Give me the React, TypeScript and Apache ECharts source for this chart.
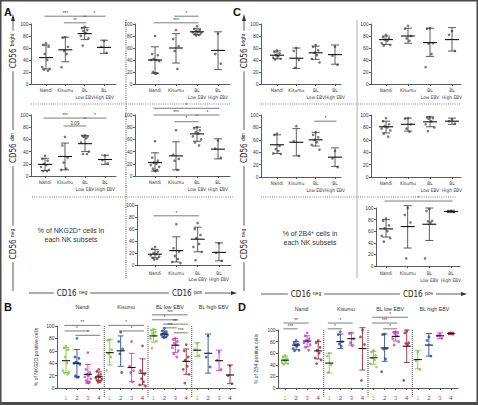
import React, { useEffect, useRef } from "react";
import * as echarts from "echarts";

const subsetGroups = ["Nandi", "Kisumu", "BL\nLow EBV", "BL\nHigh EBV"];
const cohortTitles = ["Nandi", "Kisumu", "BL low EBV", "BL high EBV"];
const subsetNumbers = ["1", "2", "3", "4"];
const subsetColors = ["#7cc843", "#2c4d9c", "#c43fc4", "#a0283c"];
const yTickInterval = 20;

// ---------- % of NKG2D+ cells ----------
const nkBrightNegPoints = [[68, 65, 62, 50, 40, 28, 25, 24, 22], [78, 77, 62, 55, 50, 28], [95, 93, 90, 88, 85, 80, 76, 64], [72, 62, 52]];
const nkBrightNegMean = [44, 57, 84, 61];
const nkBrightNegLo = [25, 37, 74, 51];
const nkBrightNegHi = [65, 78, 94, 73];

const nkBrightPosPoints = [[80, 50, 48, 42, 40, 40, 38, 20, 18, 18, 17], [90, 75, 63, 55, 25], [96, 92, 90, 88, 87, 86, 85, 83, 82, 81], [84, 50, 34]];
const nkBrightPosMean = [40, 60, 87, 56];
const nkBrightPosLo = [18, 35, 82, 24];
const nkBrightPosHi = [62, 84, 92, 87];

const nkDimNegPoints = [[33, 28, 25, 20, 18, 15, 10, 8, 8], [64, 50, 30, 22, 12, 10], [67, 66, 65, 64, 62, 55, 40, 36, 36], [34, 26, 21]];
const nkDimNegMean = [19, 32, 53, 27];
const nkDimNegLo = [9, 10, 40, 19];
const nkDimNegHi = [29, 54, 66, 34];

const nkDimPosPoints = [[57, 30, 25, 22, 20, 18, 15, 12, 10, 9, 8], [75, 35, 28, 25, 10], [80, 78, 75, 72, 70, 65, 60, 55, 50], [58, 45, 30]];
const nkDimPosMean = [22, 33, 69, 44];
const nkDimPosLo = [8, 10, 57, 28];
const nkDimPosHi = [38, 56, 80, 61];

const nkNegPosPoints = [[30, 27, 22, 20, 18, 16, 14, 12, 10, 9], [68, 28, 22, 15, 10, 5, 3], [70, 60, 50, 45, 35, 30, 22, 8], [36, 20, 7]];
const nkNegPosMean = [18, 24, 43, 21];
const nkNegPosLo = [12, 5, 22, 7];
const nkNegPosHi = [26, 47, 63, 37];

// significance: [from, to, level, label]
const nkBrightNegSig = [[1, 3, 113, "***"], [3, 4, 113, "*"], [2, 3, 102, "**"]];
const nkBrightPosSig = [[2, 3, 113, "*"], [1, 3, 102, "***"]];
const nkDimNegSig = [[1, 3, 95, "***"], [3, 4, 95, "*"], [2, 3, 82, "0.09"]];
const nkDimPosSig = [[1, 4, 111, "*"], [1, 3, 100, "***"], [3, 4, 100, "*"], [2, 3, 89, "*"]];
const nkNegPosSig = [[1, 3, 82, "*"]];
const nkCohortSig = [
  [1, 4, 101, "**"], [1, 3, 92, "*"], [2, 4, 85, "*"],
  [5, 8, 101, "*"], [6, 8, 92, "*"],
  [9, 12, 118, "***"], [9, 11, 110, "*"], [10, 12, 103, "***"], [10, 11, 97, "***"], [11, 12, 89, "***"],
];

// ---------- % of 2B4+ cells ----------
const b4BrightNegPoints = [[56, 53, 51, 48, 46, 44, 42, 41], [60, 55, 40, 27], [65, 62, 56, 52, 48, 42, 36], [62, 47, 32]];
const b4BrightNegMean = [48, 43, 52, 49];
const b4BrightNegLo = [42, 26, 41, 33];
const b4BrightNegHi = [55, 60, 63, 65];

const b4BrightPosPoints = [[82, 78, 76, 74, 72, 68, 65, 64], [97, 92, 80, 76, 72], [93, 92, 68, 67, 50, 28], [88, 82, 55]];
const b4BrightPosMean = [74, 80, 69, 74];
const b4BrightPosLo = [66, 68, 46, 55];
const b4BrightPosHi = [80, 93, 93, 94];

const b4DimNegPoints = [[70, 68, 50, 45, 42, 38, 37], [82, 58, 34], [72, 68, 64, 60, 56, 52, 44], [42, 30, 16]];
const b4DimNegMean = [52, 56, 60, 32];
const b4DimNegLo = [38, 34, 50, 17];
const b4DimNegHi = [68, 78, 72, 47];

const b4DimPosPoints = [[95, 90, 85, 82, 80, 78, 75, 70, 65], [95, 94, 85, 78, 73], [97, 96, 95, 94, 90, 85, 80, 74], [93, 90, 86]];
const b4DimPosMean = [81, 85, 89, 90];
const b4DimPosLo = [71, 74, 81, 85];
const b4DimPosHi = [90, 95, 97, 95];

const b4NegPosPoints = [[82, 78, 70, 65, 60, 52, 48, 42], [100, 88, 75, 13], [98, 95, 78, 77, 75, 13], [95, 94, 93]];
const b4NegPosMean = [64, 68, 72, 94];
const b4NegPosLo = [50, 31, 44, 92];
const b4NegPosHi = [80, 104, 100, 96];

const b4BrightNegSig: any[] = [];
const b4BrightPosSig: any[] = [];
const b4DimNegSig = [[3, 4, 90, "*"]];
const b4DimPosSig: any[] = [];
const b4NegPosSig = [[1, 4, 112, "*"]];
const b4CohortSig = [
  [1, 3, 112, "**"], [1, 2, 102, "***"],
  [5, 7, 112, "*"], [5, 6, 102, "*"],
  [9, 12, 122, "*"], [9, 11, 112, "***"], [10, 11, 102, "*"],
];

const FONT = "'Liberation Sans', Arial, sans-serif";
const NARROW = "'Liberation Sans Narrow', 'DejaVu Sans Condensed', 'Liberation Sans', sans-serif";
const INK = "#333";

type Sub = { points: number[][]; mean: number[]; lo: number[]; hi: number[] };
const mk = (points: number[][], mean: number[], lo: number[], hi: number[]): Sub => ({ points, mean, lo, hi });

const jitter = [0, -0.6, 0.6, -0.3, 0.3, -0.9, 0.9, -0.45, 0.45, -0.15, 0.15];

function buildOption() {
  const nk = {
    bn: mk(nkBrightNegPoints, nkBrightNegMean, nkBrightNegLo, nkBrightNegHi),
    bp: mk(nkBrightPosPoints, nkBrightPosMean, nkBrightPosLo, nkBrightPosHi),
    dn: mk(nkDimNegPoints, nkDimNegMean, nkDimNegLo, nkDimNegHi),
    dp: mk(nkDimPosPoints, nkDimPosMean, nkDimPosLo, nkDimPosHi),
    np: mk(nkNegPosPoints, nkNegPosMean, nkNegPosLo, nkNegPosHi),
  };
  const b4 = {
    bn: mk(b4BrightNegPoints, b4BrightNegMean, b4BrightNegLo, b4BrightNegHi),
    bp: mk(b4BrightPosPoints, b4BrightPosMean, b4BrightPosLo, b4BrightPosHi),
    dn: mk(b4DimNegPoints, b4DimNegMean, b4DimNegLo, b4DimNegHi),
    dp: mk(b4DimPosPoints, b4DimPosMean, b4DimPosLo, b4DimPosHi),
    np: mk(b4NegPosPoints, b4NegPosMean, b4NegPosLo, b4NegPosHi),
  };

  const grid: any[] = [];
  const xAxis: any[] = [];
  const yAxis: any[] = [];
  const series: any[] = [];

  const lineStyle = { color: INK, width: 0.8 };

  const yAxisDef = (i: number, extra: any = {}) => ({
    type: "value", gridIndex: i, min: 0, max: 100, interval: yTickInterval,
    axisLine: { show: true, lineStyle },
    axisTick: { show: true, length: 2, lineStyle },
    axisLabel: { fontSize: 5, color: INK, margin: 2.5, fontFamily: FONT },
    splitLine: { show: false },
    ...extra,
  });

  const errorBars = (i: number, rows: number[][], o: any) => ({
    type: "custom", xAxisIndex: i, yAxisIndex: i, clip: false, silent: true, z: 5,
    data: rows,
    renderItem: (_p: any, api: any) => {
      const x = api.value(0);
      const pm = api.coord([x, api.value(1)]);
      const pl = api.coord([x, api.value(2)]);
      const ph = api.coord([x, api.value(3)]);
      const c = o.colors ? o.colors[api.value(4)] : o.color;
      const st = { stroke: c, lineWidth: o.lw };
      return {
        type: "group",
        children: [
          { type: "line", shape: { x1: pm[0], y1: pl[1], x2: pm[0], y2: ph[1] }, style: st },
          { type: "line", shape: { x1: pm[0] - o.cap, y1: pl[1], x2: pm[0] + o.cap, y2: pl[1] }, style: st },
          { type: "line", shape: { x1: pm[0] - o.cap, y1: ph[1], x2: pm[0] + o.cap, y2: ph[1] }, style: st },
          { type: "line", shape: { x1: pm[0] - o.mw, y1: pm[1], x2: pm[0] + o.mw, y2: pm[1] }, style: { stroke: "#111", lineWidth: 1.1 } },
        ],
      };
    },
  });

  const sigSeries = (i: number, sig: any[]) => ({
    type: "custom", xAxisIndex: i, yAxisIndex: i, clip: false, silent: true, z: 6,
    data: sig.map((s) => [s[0], s[1], s[2]]),
    renderItem: (p: any, api: any) => {
      const a = api.coord([api.value(0), api.value(2)]);
      const b = api.coord([api.value(1), api.value(2)]);
      return {
        type: "group",
        children: [
          { type: "line", shape: { x1: a[0] - 1.5, y1: a[1], x2: b[0] + 1.5, y2: b[1] }, style: { stroke: "#444", lineWidth: 0.7 } },
          { type: "text", style: { text: sig[p.dataIndex][3], x: (a[0] + b[0]) / 2, y: a[1] - 0.3, align: "center", verticalAlign: "bottom", fontSize: 4.6, fill: INK, fontFamily: FONT } },
        ],
      };
    },
  });

  function small(lay: any, sub: Sub, sig: any[]) {
    const i = grid.length;
    const s = (lay.c4 - lay.c1) / 3;
    grid.push({ left: lay.L, top: lay.top, width: lay.R - lay.L, height: lay.bot - lay.top });
    xAxis.push({
      type: "value", gridIndex: i, min: 1 - (lay.c1 - lay.L) / s, max: 4 + (lay.R - lay.c4) / s,
      axisLine: { show: true, onZero: false, lineStyle },
      axisTick: { show: true, length: 2, lineStyle, customValues: [1, 2, 3, 4] },
      axisLabel: { show: false },
      splitLine: { show: false },
    });
    yAxis.push(yAxisDef(i));
    const pts: number[][] = [];
    sub.points.forEach((arr, g) => arr.forEach((v, k) => pts.push([g + 1 + jitter[k % jitter.length] * 0.22, v])));
    series.push({ type: "scatter", xAxisIndex: i, yAxisIndex: i, data: pts, symbolSize: 2.6, itemStyle: { color: "#555" }, silent: true, clip: false });
    series.push(errorBars(i, sub.mean.map((m, g) => [g + 1, m, sub.lo[g], sub.hi[g]]), { color: "#333", lw: 0.8, cap: 4, mw: 7 }));
    if (sig.length) series.push(sigSeries(i, sig));
    // category labels
    series.push({
      type: "custom", xAxisIndex: i, yAxisIndex: i, clip: false, silent: true,
      data: [[1], [2], [3], [4]],
      renderItem: (p: any, api: any) => {
        const a = api.coord([api.value(0), 0]);
        return {
          type: "text",
          style: {
            text: subsetGroups[p.dataIndex], x: a[0], y: a[1] + (lay.lm ?? 3.5),
            align: "center", verticalAlign: "top", fontSize: 4.8, lineHeight: 6.6, fill: INK, fontFamily: NARROW,
          },
        };
      },
    });
  }

  function wide(lay: any, subs: Sub[], sig: any[], yName: string) {
    const i = grid.length;
    const s = (lay.c16 - lay.c1) / 15;
    grid.push({ left: lay.L, top: lay.top, width: lay.R - lay.L, height: lay.bot - lay.top });
    const cols = Array.from({ length: 16 }, (_, k) => k + 1);
    const rich: any = {};
    subsetColors.forEach((c, k) => (rich["k" + k] = { color: c, fontSize: 6, fontFamily: FONT }));
    xAxis.push({
      type: "value", gridIndex: i, min: 1 - (lay.c1 - lay.L) / s, max: 16 + (lay.R - lay.c16) / s,
      axisLine: { show: true, onZero: false, lineStyle },
      axisTick: { show: true, length: 2, lineStyle, customValues: cols },
      axisLabel: {
        customValues: cols,
        formatter: (v: number) => {
          const k = (Math.round(v) - 1) % 4;
          return `{k${k}|${subsetNumbers[k]}}`;
        },
        rich, margin: 7,
      },
      splitLine: { show: false },
    });
    yAxis.push(yAxisDef(i, {
      name: yName, nameLocation: "middle", nameGap: lay.nameGap, nameRotate: 90,
      nameTextStyle: { fontSize: 5, color: INK, fontFamily: FONT },
    }));
    subs.forEach((sub, k) => {
      const pts: number[][] = [];
      sub.points.forEach((arr, g) => arr.forEach((v, j) => pts.push([g * 4 + k + 1 + jitter[j % jitter.length] * 0.3, v])));
      series.push({ type: "scatter", xAxisIndex: i, yAxisIndex: i, data: pts, symbolSize: 2.8, itemStyle: { color: subsetColors[k] }, silent: true, clip: false });
    });
    const rows: number[][] = [];
    for (let g = 0; g < 4; g++) subs.forEach((sub, k) => rows.push([g * 4 + k + 1, sub.mean[g], sub.lo[g], sub.hi[g], k]));
    series.push(errorBars(i, rows, { colors: subsetColors, lw: 0.9, cap: 3, mw: 4 }));
    series.push(sigSeries(i, sig));
    // cohort separators
    series.push({
      type: "custom", xAxisIndex: i, yAxisIndex: i, clip: false, silent: true,
      data: [[4.5], [8.5], [12.5]],
      renderItem: (_p: any, api: any) => {
        const a = api.coord([api.value(0), 100]);
        const b = api.coord([api.value(0), -15]);
        return { type: "line", shape: { x1: a[0], y1: a[1], x2: b[0], y2: b[1] }, style: { stroke: "#333", lineWidth: 0.9, lineDash: [1, 1] } };
      },
    });
    // cohort titles
    series.push({
      type: "custom", xAxisIndex: i, yAxisIndex: i, clip: false, silent: true,
      data: [[2.5], [6.5], [10.5], [14.5]],
      renderItem: (p: any, api: any) => {
        const a = api.coord([api.value(0), lay.titleLevel]);
        return { type: "text", style: { text: cohortTitles[p.dataIndex], x: a[0], y: a[1], align: "center", verticalAlign: "middle", fontSize: 5.3, fill: INK, fontFamily: FONT } };
      },
    });
  }

  // panel A
  small({ L: 31, c1: 46, c4: 104, R: 116, top: 24, bot: 84 }, nk.bn, nkBrightNegSig);
  small({ L: 135, c1: 155, c4: 218, R: 230, top: 24, bot: 84 }, nk.bp, nkBrightPosSig);
  small({ L: 31, c1: 45, c4: 105, R: 116, top: 115, bot: 176 }, nk.dn, nkDimNegSig);
  small({ L: 135, c1: 155, c4: 218, R: 230, top: 115, bot: 176 }, nk.dp, nkDimPosSig);
  small({ L: 137, c1: 155, c4: 219, R: 231, top: 205, bot: 265, lm: 5 }, nk.np, nkNegPosSig);
  // panel C
  small({ L: 261, c1: 277, c4: 335, R: 341, top: 24, bot: 84 }, b4.bn, b4BrightNegSig);
  small({ L: 371, c1: 386, c4: 452, R: 461, top: 24, bot: 84 }, b4.bp, b4BrightPosSig);
  small({ L: 261, c1: 277, c4: 335, R: 341, top: 115, bot: 177 }, b4.dn, b4DimNegSig);
  small({ L: 371, c1: 386, c4: 452, R: 461, top: 115, bot: 177 }, b4.dp, b4DimPosSig);
  small({ L: 376, c1: 386, c4: 451, R: 460, top: 208, bot: 266, lm: 4.5 }, b4.np, b4NegPosSig);
  // panels B and D
  wide({ L: 57, c1: 66, c16: 230, R: 236, top: 326, bot: 388, nameGap: 19, titleLevel: 131 }, [nk.bn, nk.bp, nk.dp, nk.np], nkCohortSig, "% of NKG2D positive cells");
  wide({ L: 278, c1: 285, c16: 451, R: 458, top: 330, bot: 388, nameGap: 20, titleLevel: 137 }, [b4.bn, b4.bp, b4.dp, b4.np], b4CohortSig, "% of 2B4 positive cells");

  // ---------- decorations ----------
  const g: any[] = [];
  const line = (x1: number, y1: number, x2: number, y2: number, style: any) => g.push({ type: "line", silent: true, shape: { x1, y1, x2, y2 }, style });
  const letter = (t: string, x: number, y: number) =>
    g.push({ type: "text", x, y, style: { text: t, fontSize: 11, fontWeight: "bold", fill: "#111", fontFamily: FONT } });
  letter("A", 4, 6);
  letter("B", 4, 301);
  letter("C", 233, 6);
  letter("D", 238, 301);

  const sepStyle = { stroke: "#aaa", lineWidth: 1.6, lineDash: [1, 1.2] };
  line(31, 104, 230, 104, sepStyle);
  line(32, 197, 233, 197, sepStyle);
  line(261, 104, 460, 104, sepStyle);
  line(261, 197, 456, 197, sepStyle);
  line(126, 20, 126, 279, { stroke: "#444", lineWidth: 0.9, lineDash: [1, 1.2] });
  line(357, 20, 357, 278, { stroke: "#999", lineWidth: 0.8 });

  const arrowStyle = { stroke: INK, lineWidth: 0.8 };
  const richCD = (base: string, sup: string) => ({
    text: `{a|${base} }{b|${sup}}`,
    rich: { a: { fontSize: 8, fontFamily: NARROW, fill: "#222" }, b: { fontSize: 5, fontFamily: FONT, fill: "#222", verticalAlign: "top" } },
  });
  const vLabel = (x: number, y: number, sup: string) =>
    g.push({ type: "text", x, y, rotation: Math.PI / 2, z: 10, style: { ...richCD("CD56", sup), align: "center", verticalAlign: "middle", backgroundColor: "#fff", padding: [1, 3] } });
  const hLabel = (x: number, y: number, sup: string) =>
    g.push({ type: "text", x, y, z: 10, style: { ...richCD("CD16", sup), align: "center", verticalAlign: "middle", backgroundColor: "#fff", padding: [1, 3] } });

  for (const [ax, hx0, hx1, hy, neg, pos] of [[13, 29, 233, 293, 72, 187], [244, 261, 463, 294, 306, 418]]) {
    line(ax, 20, ax, 291, arrowStyle);
    g.push({ type: "polygon", shape: { points: [[ax, 14], [ax - 2, 21], [ax + 2, 21]] }, style: { fill: INK } });
    vLabel(ax, 51, "bright");
    vLabel(ax, 148, "dim");
    vLabel(ax, 244, "neg");
    line(hx0, hy, hx1, hy, arrowStyle);
    g.push({ type: "polygon", shape: { points: [[hx1 + 4, hy], [hx1 - 2, hy - 2], [hx1 - 2, hy + 2]] }, style: { fill: INK } });
    hLabel(neg, hy, "neg");
    hLabel(pos, hy, "pos");
  }

  const note = (x: number, y: number, marker: string) =>
    g.push({
      type: "text", x, y,
      style: {
        text: `{t|% of ${marker}}{s|+}{t| cells in}\n{t|each NK subsets}`,
        rich: { t: { fontSize: 7, fontFamily: FONT, fill: INK, lineHeight: 9 }, s: { fontSize: 5, fontFamily: FONT, fill: INK, verticalAlign: "top", lineHeight: 9 } },
        align: "center", verticalAlign: "middle",
      },
    });
  note(71, 235, "NKG2D");
  note(310, 238, "2B4");

  g.push({ type: "rect", shape: { x: 0.75, y: 0.75, width: 476.5, height: 403.5 }, style: { fill: "none", stroke: "#4a4a4a", lineWidth: 1.5 } });
  g.push({ type: "rect", shape: { x: 0, y: 402, width: 478, height: 3 }, style: { fill: "#4a4a4a" } });

  return { animation: false, backgroundColor: "#fff", grid, xAxis, yAxis, series, graphic: { elements: g } };
}

export default function App() {
  const ref = useRef<HTMLDivElement>(null);
  useEffect(() => {
    document.body.style.margin = "0";
    const chart = echarts.init(ref.current!, null, { renderer: "svg" });
    chart.setOption(buildOption());
    return () => chart.dispose();
  }, []);
  return <div ref={ref} style={{ width: 478, height: 405, background: "#fff" }} />;
}
